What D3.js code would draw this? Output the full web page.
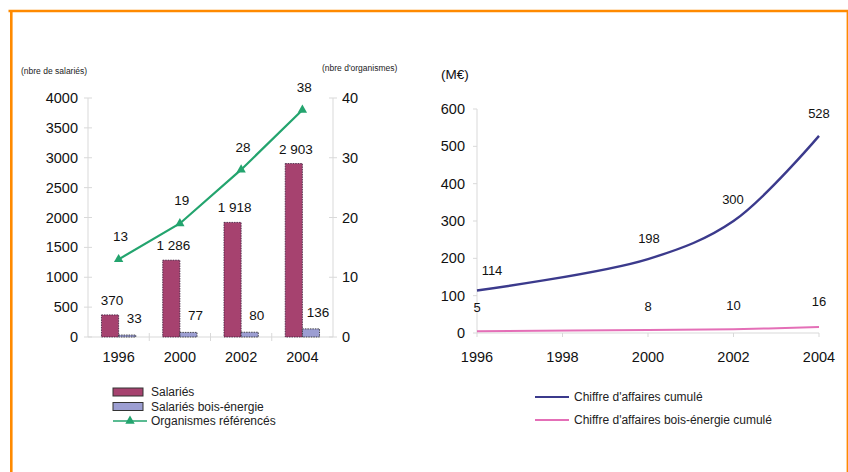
<!DOCTYPE html>
<html>
<head>
<meta charset="utf-8">
<script src="https://cdn.jsdelivr.net/npm/d3@7/dist/d3.min.js"></script>
<style>
  html, body { margin: 0; padding: 0; background: #fff; }
  svg { display: block; font-family: "Liberation Sans", Arial, sans-serif; }
</style>
</head>
<body>
<svg id="chart" width="848" height="472"></svg>
<script>
// Employment and organisations (left panel)
const years = ["1996", "2000", "2002", "2004"];
const salaries = [370, 1286, 1918, 2903];
const salariesBois = [33, 77, 80, 136];
const organismes = [13, 19, 28, 38];
const salTicks = [0, 500, 1000, 1500, 2000, 2500, 3000, 3500, 4000];
const orgTicks = [0, 10, 20, 30, 40];

// Cumulative turnover (right panel)
const caYears = [1996, 2000, 2002, 2004];
const caCumule = [114, 198, 300, 528];
const caBois = [5, 8, 10, 16];
const caYTicks = [0, 100, 200, 300, 400, 500, 600];
const caXTicks = [1996, 1998, 2000, 2002, 2004];

const fmtSpace = v => d3.format(",")(v).replace(/,/g, " ");

const svg = d3.select("#chart");

// Orange frame
svg.append("line").attr("x1", 8.5).attr("x2", 848).attr("y1", 11).attr("y2", 11)
  .attr("stroke", "#ff8a00").attr("stroke-width", 2.5);
svg.append("line").attr("x1", 11.3).attr("x2", 11.3).attr("y1", 10).attr("y2", 472)
  .attr("stroke", "#ff8a00").attr("stroke-width", 2.6);
svg.append("line").attr("x1", 847.3).attr("x2", 847.3).attr("y1", 10).attr("y2", 472)
  .attr("stroke", "#ff8a00").attr("stroke-width", 1.4);

// ---------- Left panel ----------
const L = { x0: 88, x1: 333, y0: 337, y1: 98 };
const xBand = d3.scaleBand().domain(years).range([L.x0, L.x1]).paddingInner(0.44).paddingOuter(0.22);
const ySal = d3.scaleLinear().domain([0, 4000]).range([L.y0, L.y1]);
const yOrg = d3.scaleLinear().domain([0, 40]).range([L.y0, L.y1]);
const gridCol = "#d9d9d9";

const left = svg.append("g");
// axis lines
left.append("line").attr("x1", L.x0).attr("x2", L.x0).attr("y1", L.y0).attr("y2", L.y1).attr("stroke", gridCol);
left.append("line").attr("x1", L.x1).attr("x2", L.x1).attr("y1", L.y0).attr("y2", L.y1).attr("stroke", gridCol);
left.append("line").attr("x1", L.x0).attr("x2", L.x1).attr("y1", L.y0).attr("y2", L.y0).attr("stroke", gridCol);

// left ticks
left.selectAll(".tl").data(salTicks).join("line")
  .attr("x1", L.x0 - 4).attr("x2", L.x0 + 4).attr("y1", d => ySal(d)).attr("y2", d => ySal(d)).attr("stroke", gridCol);
left.selectAll(".tlt").data(salTicks).join("text")
  .attr("x", 78).attr("y", d => ySal(d)).attr("dy", "0.35em").attr("text-anchor", "end")
  .attr("font-size", 14.5).attr("fill", "#111").text(d => d);
// right ticks
left.selectAll(".tr").data(orgTicks).join("line")
  .attr("x1", L.x1 - 4).attr("x2", L.x1 + 4).attr("y1", d => yOrg(d)).attr("y2", d => yOrg(d)).attr("stroke", gridCol);
left.selectAll(".trt").data(orgTicks).join("text")
  .attr("x", 342).attr("y", d => yOrg(d)).attr("dy", "0.35em").attr("text-anchor", "start")
  .attr("font-size", 14.5).attr("fill", "#111").text(d => d);
// category separators
const step = (L.x1 - L.x0) / years.length;
left.selectAll(".tc").data(d3.range(1, years.length)).join("line")
  .attr("x1", d => L.x0 + d * step).attr("x2", d => L.x0 + d * step)
  .attr("y1", L.y0 - 4).attr("y2", L.y0 + 4).attr("stroke", gridCol);
// category labels
left.selectAll(".xl").data(years).join("text")
  .attr("x", d => xBand(d) + xBand.bandwidth() / 2).attr("y", 362)
  .attr("text-anchor", "middle").attr("font-size", 14.5).attr("fill", "#111").text(d => d);

const bw = xBand.bandwidth() / 2;
// bars
left.selectAll(".b1").data(salaries).join("rect")
  .attr("x", (d, i) => xBand(years[i])).attr("width", bw)
  .attr("y", d => ySal(d)).attr("height", d => L.y0 - ySal(d))
  .attr("fill", "#a6426f").attr("stroke", "#3a1a3a").attr("stroke-width", 0.8).attr("stroke-dasharray", "1.5,1");
left.selectAll(".b2").data(salariesBois).join("rect")
  .attr("x", (d, i) => xBand(years[i]) + bw).attr("width", bw)
  .attr("y", d => ySal(d)).attr("height", d => L.y0 - ySal(d))
  .attr("fill", "#9c9ed2").attr("stroke", "#222").attr("stroke-width", 0.8).attr("stroke-dasharray", "1.5,1");
// bar labels
left.selectAll(".bl1").data(salaries).join("text")
  .attr("x", (d, i) => xBand(years[i]) + bw / 2 + 2).attr("y", d => ySal(d) - 10)
  .attr("text-anchor", "middle").attr("font-size", 13.5).attr("fill", "#111").text(d => fmtSpace(d));
left.selectAll(".bl2").data(salariesBois).join("text")
  .attr("x", (d, i) => xBand(years[i]) + bw * 1.5 + 7).attr("y", d => ySal(d) - 12)
  .attr("text-anchor", "middle").attr("font-size", 13.5).attr("fill", "#111").text(d => fmtSpace(d));

// organisations line
const cx = d => xBand(d) + xBand.bandwidth() / 2;
const green = "#23a46e";
left.append("path").datum(organismes)
  .attr("d", d3.line().x((d, i) => cx(years[i])).y(d => yOrg(d)))
  .attr("fill", "none").attr("stroke", green).attr("stroke-width", 2.2);
const tri = d3.symbol().type(d3.symbolTriangle).size(38);
left.selectAll(".m").data(organismes).join("path")
  .attr("transform", (d, i) => `translate(${cx(years[i])},${yOrg(d)})`)
  .attr("d", tri).attr("fill", green);
left.selectAll(".ml").data(organismes).join("text")
  .attr("x", (d, i) => cx(years[i]) + 2).attr("y", d => yOrg(d) - 18)
  .attr("text-anchor", "middle").attr("font-size", 13.5).attr("fill", "#111").text(d => d);

// axis titles
svg.append("text").attr("x", 21).attr("y", 74).attr("font-size", 8.5).attr("fill", "#222").text("(nbre de salariés)");
svg.append("text").attr("x", 322).attr("y", 71).attr("font-size", 8.5).attr("fill", "#222").text("(nbre d'organismes)");

// left legend
const leg = svg.append("g").attr("font-size", 12).attr("fill", "#222");
const legItems = [
  { label: "Salariés", type: "rect", fill: "#a6426f" },
  { label: "Salariés bois-énergie", type: "rect", fill: "#9c9ed2" },
  { label: "Organismes référencés", type: "line" }
];
legItems.forEach((it, i) => {
  const y = 392 + i * 14.5;
  if (it.type === "rect") {
    leg.append("rect").attr("x", 113).attr("y", y - 4).attr("width", 30).attr("height", 8)
      .attr("fill", it.fill).attr("stroke", "#333").attr("stroke-width", 1);
  } else {
    leg.append("line").attr("x1", 113).attr("x2", 147).attr("y1", y).attr("y2", y)
      .attr("stroke", green).attr("stroke-width", 1.6);
    leg.append("path").attr("transform", `translate(130,${y})`).attr("d", tri).attr("fill", green);
  }
  leg.append("text").attr("x", 151).attr("y", y).attr("dy", "0.35em").text(it.label);
});

// ---------- Right panel ----------
const R = { x0: 477, x1: 819, y0: 333, y1: 109 };
const xYear = d3.scaleLinear().domain([1996, 2004]).range([R.x0, R.x1]);
const yCA = d3.scaleLinear().domain([0, 600]).range([R.y0, R.y1]);
const right = svg.append("g");
right.append("line").attr("x1", R.x0).attr("x2", R.x0).attr("y1", R.y0).attr("y2", R.y1).attr("stroke", gridCol);
right.append("line").attr("x1", R.x0).attr("x2", R.x1).attr("y1", R.y0).attr("y2", R.y0).attr("stroke", gridCol);
right.selectAll(".ty").data(caYTicks).join("line")
  .attr("x1", R.x0 - 4).attr("x2", R.x0).attr("y1", d => yCA(d)).attr("y2", d => yCA(d)).attr("stroke", gridCol);
right.selectAll(".tyt").data(caYTicks).join("text")
  .attr("x", 465).attr("y", d => yCA(d)).attr("dy", "0.35em").attr("text-anchor", "end")
  .attr("font-size", 14.5).attr("fill", "#111").text(d => d);
right.selectAll(".tx").data(caXTicks).join("line")
  .attr("x1", d => xYear(d)).attr("x2", d => xYear(d)).attr("y1", R.y0).attr("y2", R.y0 + 4).attr("stroke", gridCol);
right.selectAll(".txt").data(caXTicks).join("text")
  .attr("x", d => xYear(d)).attr("y", 362).attr("text-anchor", "middle")
  .attr("font-size", 14.5).attr("fill", "#111").text(d => d);

const smooth = d3.line().x((d, i) => xYear(caYears[i])).y(d => yCA(d)).curve(d3.curveCatmullRom.alpha(0.5));
right.append("path").datum(caCumule).attr("d", smooth)
  .attr("fill", "none").attr("stroke", "#3b3a8c").attr("stroke-width", 2.4);
right.append("path").datum(caBois).attr("d", smooth)
  .attr("fill", "none").attr("stroke", "#e46fb7").attr("stroke-width", 2);

const caLabelPos = [[492, 270], [649, 238], [733, 199], [819, 113]];
right.selectAll(".cl").data(caCumule).join("text")
  .attr("x", (d, i) => caLabelPos[i][0]).attr("y", (d, i) => caLabelPos[i][1]).attr("dy", "0.35em")
  .attr("text-anchor", "middle").attr("font-size", 13).attr("fill", "#111").text(d => d);
right.selectAll(".bl").data(caBois).join("text")
  .attr("x", (d, i) => xYear(caYears[i])).attr("y", (d, i) => yCA(d) - 24 - (i === 3 ? 2 : 0)).attr("dy", "0.35em")
  .attr("text-anchor", "middle").attr("font-size", 13).attr("fill", "#111").text(d => d);

svg.append("text").attr("x", 441).attr("y", 79).attr("font-size", 13.5).attr("fill", "#111").text("(M€)");

// right legend
const leg2 = svg.append("g").attr("font-size", 12).attr("fill", "#222");
[["Chiffre d'affaires cumulé", "#3b3a8c"], ["Chiffre d'affaires bois-énergie cumulé", "#e46fb7"]].forEach((it, i) => {
  const y = 397 + i * 23;
  leg2.append("line").attr("x1", 535).attr("x2", 569).attr("y1", y).attr("y2", y)
    .attr("stroke", it[1]).attr("stroke-width", 2);
  leg2.append("text").attr("x", 574).attr("y", y).attr("dy", "0.35em").text(it[0]);
});
</script>
</body>
</html>
